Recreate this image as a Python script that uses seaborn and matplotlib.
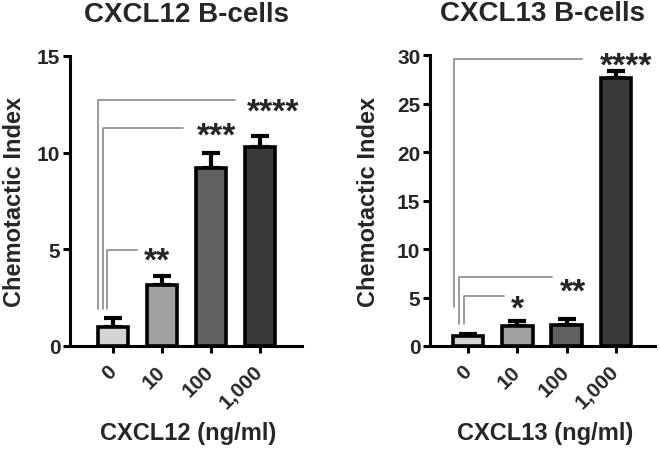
import matplotlib
matplotlib.use("Agg")
import matplotlib.pyplot as plt
import seaborn as sns
import pandas as pd
import numpy as np

# ---- data ----
doses = ["0", "10", "100", "1,000"]
cxcl12_mean = [0.98, 3.16, 9.2, 10.3]
cxcl12_err = [0.47, 0.46, 0.8, 0.56]
cxcl13_mean = [1.03, 2.06, 2.2, 27.6]
cxcl13_err = [0.21, 0.54, 0.6, 0.7]
bar_colors = ["#d4d4d4", "#a0a0a0", "#606060", "#3a3a3a"]

# significance brackets: (label, bracket height, bottom height)
sig12_labels = ["**", "***", "****"]
sig12_top = [4.97, 11.28, 12.7]
sig12_bottom = [1.9, 1.9, 1.9]
sig13_labels = ["*", "**", "****"]
sig13_top = [5.15, 7.1, 29.6]
sig13_bottom = [2.3, 2.3, 4.0]

sns.set_theme(style="ticks")
plt.rcParams["font.family"] = ["Liberation Sans", "DejaVu Sans"]

fig = plt.figure(figsize=(6.6, 4.52), dpi=100)
axL = fig.add_axes([70/660, 1-347/452, 232/660, 290/452])
axR = fig.add_axes([430/660, 1-347/452, 225/660, 291/452])

def draw(ax, means, errs, ymax, step, xlim, title, ylab_x,
         labels, tops, bottoms, vx, endx, starx, stardy):
    df = pd.DataFrame({"dose": doses, "val": means})
    sns.barplot(data=df, x="dose", y="val", hue="dose", palette=bar_colors,
                legend=False, ax=ax, width=0.62, edgecolor="black",
                linewidth=2.6, saturation=1, zorder=3)
    x = np.arange(len(doses))
    ax.errorbar(x, means, yerr=[np.zeros(len(errs)), errs], fmt="none",
                ecolor="black", elinewidth=3, capsize=6.5, capthick=3,
                zorder=2)
    ax.set_ylim(0, ymax)
    ax.set_xlim(*xlim)
    yt = np.arange(0, ymax + 0.1, step)
    ax.set_yticks(yt)
    ax.set_yticklabels([f"{int(v)}" for v in yt], fontsize=15, fontweight="bold")
    ax.set_xticks(x)
    ax.set_xticklabels(doses, rotation=45, ha="right", va="center",
                       rotation_mode="anchor", fontsize=15, fontweight="bold")
    ax.tick_params(axis="x", pad=11, length=5, width=2.2, color="black")
    ax.tick_params(axis="y", pad=2, length=5, width=2.2, color="black")
    for s in ["left", "bottom"]:
        ax.spines[s].set_linewidth(2.2)
        ax.spines[s].set_color("black")
    sns.despine(ax=ax)
    ax.set_xlabel("")
    ax.set_ylabel("Chemotactic Index", fontsize=17, fontweight="bold")
    ax.yaxis.set_label_coords(ylab_x, 0.5)
    ax.set_title(title, fontsize=20, fontweight="bold", pad=25.5)
    for lab, top, bot, vxi, ex, sx, dy in zip(labels, tops, bottoms, vx, endx,
                                              starx, stardy):
        ax.plot([vxi, vxi, ex], [bot, top, top], color="#8a8a8a", lw=1.2,
                zorder=1, clip_on=False)
        ax.annotate(lab, (sx, top), xytext=(0, dy), textcoords="offset points",
                    ha="center", va="baseline", fontsize=24,
                    fontweight="bold", annotation_clip=False)

draw(axL, cxcl12_mean, cxcl12_err, 15, 5, (-0.88, 3.86),
     "CXCL12 B-cells", -0.19,
     sig12_labels, sig12_top, sig12_bottom,
     [-0.13, -0.21, -0.31], [0.49, 1.43, 2.49], [0.9, 2.12, 3.27],
     [-14.4, -12.2, -14.4])
draw(axR, cxcl13_mean, cxcl13_err, 30, 5, (-0.77, 3.79),
     "CXCL13 B-cells", -0.222,
     sig13_labels, sig13_top, sig13_bottom,
     [-0.08, -0.18, -0.28], [0.73, 1.70, 2.31], [1.01, 2.13, 3.2],
     [-15.8, -17, -11])

fig.text(188/660, 1-434/452, "CXCL12 (ng/ml)", ha="center", va="center",
         fontsize=17, fontweight="bold")
fig.text(545/660, 1-434/452, "CXCL13 (ng/ml)", ha="center", va="center",
         fontsize=17, fontweight="bold")

fig.savefig("out.png", dpi=100)
